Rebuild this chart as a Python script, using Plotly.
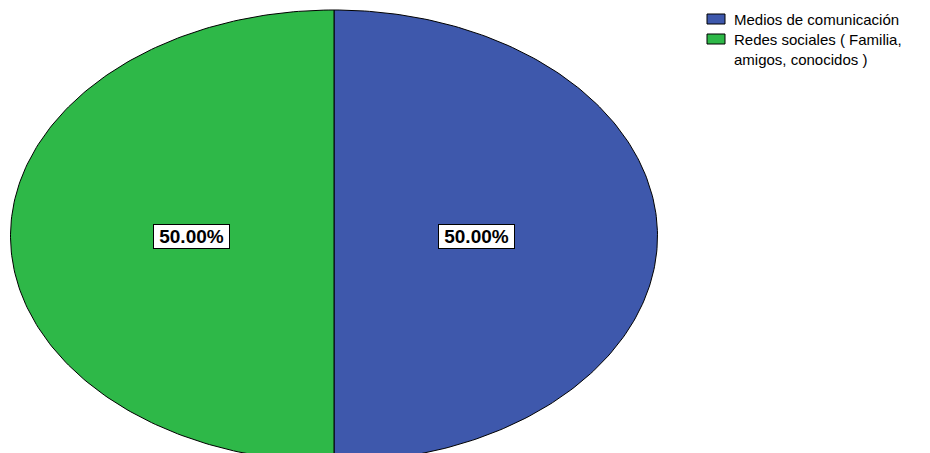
import numpy as np
import plotly.graph_objects as go

# Data
categories = ['Medios de comunicación', 'Redes sociales ( Familia,<br>amigos, conocidos )']
percent_values = [50.0, 50.0]
slice_colors = ['#3E58AC', '#2EB848']

# Ellipse geometry (pixel coords, y downward)
W, H = 930, 453
cx, cy = 334, 236
rx, ry = 323.5, 226

fig = go.Figure()

total = sum(percent_values)
start = 0.0
annotations = []
for name, val, col in zip(categories, percent_values, slice_colors):
    a0 = start / total * 2 * np.pi
    a1 = (start + val) / total * 2 * np.pi
    t = np.linspace(a0, a1, 200)
    xs = np.concatenate([[cx], cx + rx * np.sin(t), [cx]])
    ys = np.concatenate([[cy], cy - ry * np.cos(t), [cy]])
    fig.add_trace(go.Scatter(
        x=xs, y=ys, mode='lines', fill='toself', fillcolor=col,
        line=dict(color='black', width=1), name=name,
        showlegend=False, hoverinfo='skip'
    ))
    mid = (a0 + a1) / 2
    annotations.append(dict(
        x=cx + 0.44 * rx * np.sin(mid), y=cy - 0.44 * ry * np.cos(mid),
        xref='x', yref='y', showarrow=False,
        text='<b>%.2f%%</b>' % (val / total * 100),
        font=dict(family='Liberation Sans, Arial', size=19, color='black'),
        bgcolor='white', bordercolor='black', borderwidth=1,
        width=75, height=23, borderpad=0
    ))
    start += val

# Manual legend
shapes = []
leg_y = [14, 34]
for i, (name, col) in enumerate(zip(categories, slice_colors)):
    y0 = leg_y[i]
    shapes.append(dict(type='rect', xref='x', yref='y', x0=707, x1=725,
                       y0=y0, y1=y0 + 10, fillcolor=col,
                       line=dict(color='black', width=1)))
    annotations.append(dict(
        x=732, y=y0 - 5, xref='x', yref='y', xanchor='left', yanchor='top',
        align='left', showarrow=False, text=name,
        font=dict(family='Liberation Sans, Arial', size=15, color='black')
    ))

fig.update_layout(
    width=W, height=H,
    margin=dict(l=0, r=0, t=0, b=0),
    paper_bgcolor='white', plot_bgcolor='white',
    xaxis=dict(range=[0, W], visible=False, fixedrange=True),
    yaxis=dict(range=[H, 0], visible=False, fixedrange=True),
    shapes=shapes, annotations=annotations,
    showlegend=False
)

fig.write_html('out.html', config={'displayModeBar': False},
               post_script="document.body.style.margin='0';")
